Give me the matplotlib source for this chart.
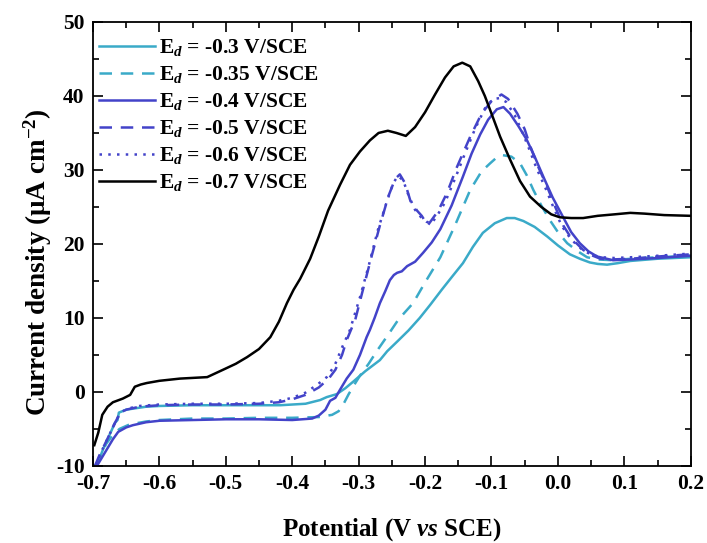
import matplotlib
matplotlib.use("Agg")
import matplotlib.pyplot as plt

plt.rcParams['font.family'] = ['Liberation Serif', 'DejaVu Serif']
plt.rcParams['font.weight'] = 'bold'
plt.rcParams['axes.labelweight'] = 'bold'
plt.rcParams['mathtext.fontset'] = 'custom'
plt.rcParams['mathtext.rm'] = 'Liberation Serif:bold'
plt.rcParams['mathtext.bf'] = 'Liberation Serif:bold'
plt.rcParams['mathtext.it'] = 'Liberation Serif:italic:bold'

# Ed = -0.3 V/SCE
x_03 = [-0.697, -0.690, -0.685, -0.676, -0.667, -0.663, -0.661, -0.650, -0.635, -0.620,
        -0.600, -0.550, -0.500, -0.449, -0.418, -0.380, -0.358, -0.348, -0.333, -0.320,
        -0.308, -0.290, -0.268, -0.257, -0.242, -0.225, -0.208, -0.192, -0.175, -0.160,
        -0.143, -0.128, -0.113, -0.095, -0.077, -0.065, -0.052, -0.035, -0.016, 0.000,
        0.018, 0.033, 0.048, 0.060, 0.074, 0.090, 0.109, 0.150, 0.200]
y_03 = [-10, -9.0, -7.8, -6.0, -4.2, -3.8, -2.8, -2.4, -2.2, -2.0,
        -1.9, -1.8, -1.8, -1.8, -1.8, -1.6, -1.1, -0.7, -0.3, 0.5,
        1.4, 2.8, 4.3, 5.5, 6.8, 8.3, 10.0, 11.8, 13.8, 15.5,
        17.4, 19.6, 21.5, 22.8, 23.5, 23.5, 23.1, 22.3, 21.0, 19.8,
        18.6, 18.0, 17.5, 17.3, 17.2, 17.4, 17.7, 18.0, 18.2]

# Ed = -0.35 V/SCE
x_035 = [-0.696, -0.688, -0.680, -0.670, -0.660, -0.645, -0.620, -0.600, -0.550, -0.500,
         -0.450, -0.400, -0.360, -0.340, -0.330, -0.322, -0.315, -0.305, -0.298, -0.285,
         -0.272, -0.255, -0.240, -0.218, -0.200, -0.177, -0.155, -0.132, -0.115, -0.102,
         -0.092, -0.083, -0.070, -0.057, -0.047, -0.037, -0.025, -0.012, 0.000, 0.014,
         0.030, 0.044, 0.060, 0.083, 0.110, 0.150, 0.200]
y_035 = [-10, -8.5, -7.0, -5.8, -5.0, -4.4, -4.0, -3.8, -3.6, -3.6,
         -3.5, -3.5, -3.4, -3.1, -2.6, -1.5, -0.3, 1.2, 2.2, 3.8,
         5.6, 7.8, 9.8, 12.0, 14.8, 18.2, 22.5, 27.3, 29.8, 30.9,
         31.7, 32.0, 31.8, 30.9, 29.3, 27.3, 25.2, 23.2, 21.6, 20.1,
         19.0, 18.2, 17.9, 17.8, 18.0, 18.2, 18.4]

# Ed = -0.4 V/SCE
x_04 = [-0.694, -0.686, -0.678, -0.670, -0.662, -0.650, -0.640, -0.620, -0.600, -0.550,
        -0.500, -0.450, -0.400, -0.370, -0.360, -0.350, -0.343, -0.335, -0.328, -0.318,
        -0.308, -0.298, -0.288, -0.283, -0.276, -0.268, -0.260, -0.253, -0.247, -0.242,
        -0.235, -0.227, -0.215, -0.203, -0.190, -0.177, -0.160, -0.143, -0.130, -0.117,
        -0.105, -0.092, -0.082, -0.072, -0.060, -0.047, -0.035, -0.022, -0.008, 0.008,
        0.020, 0.033, 0.046, 0.059, 0.083, 0.110, 0.150, 0.200]
y_04 = [-10, -8.8, -7.6, -6.4, -5.4, -4.8, -4.5, -4.1, -3.9, -3.8,
        -3.7, -3.7, -3.8, -3.6, -3.2, -2.4, -1.2, -0.8, 0.3, 1.8,
        3.0, 5.0, 7.4, 8.4, 10.0, 12.0, 13.6, 15.1, 15.8, 16.1,
        16.3, 17.0, 17.6, 18.8, 20.2, 22.0, 25.2, 29.1, 32.2, 34.8,
        36.8, 38.2, 38.5, 37.6, 36.0, 34.1, 31.8, 29.1, 26.3, 23.6,
        21.6, 20.1, 19.0, 18.3, 17.8, 17.9, 18.1, 18.4]

# Ed = -0.5 V/SCE
x_05 = [-0.697, -0.690, -0.679, -0.667, -0.660, -0.650, -0.630, -0.600, -0.550, -0.500,
        -0.450, -0.420, -0.400, -0.380, -0.360, -0.345, -0.335, -0.325, -0.318, -0.305,
        -0.293, -0.280, -0.268, -0.255, -0.245, -0.238, -0.230, -0.222, -0.212, -0.205,
        -0.196, -0.188, -0.180, -0.167, -0.152, -0.132, -0.115, -0.100, -0.085, -0.075,
        -0.061, -0.050, -0.042, -0.030, -0.016, -0.004, 0.008, 0.020, 0.038, 0.050,
        0.064, 0.080, 0.110, 0.150, 0.200]
y_05 = [-10, -8.5, -6.5, -4.2, -3.0, -2.4, -2.0, -1.8, -1.7, -1.7,
        -1.6, -1.4, -1.0, -0.4, 0.6, 1.8, 3.0, 5.0, 7.0, 9.8,
        14.0, 18.5, 22.5, 26.5, 28.8, 29.4, 28.2, 25.8, 24.5, 23.8,
        22.5, 23.5, 24.5, 26.9, 30.4, 34.5, 37.6, 39.3, 40.2, 39.6,
        37.6, 35.5, 33.3, 30.5, 27.7, 25.0, 22.5, 20.8, 19.2, 18.5,
        18.0, 17.9, 18.0, 18.3, 18.6]

# Ed = -0.6 V/SCE
x_06 = [-0.696, -0.688, -0.678, -0.668, -0.660, -0.650, -0.630, -0.600, -0.550, -0.500,
        -0.450, -0.420, -0.400, -0.380, -0.362, -0.348, -0.336, -0.326, -0.313, -0.298,
        -0.285, -0.271, -0.258, -0.248, -0.241, -0.233, -0.225, -0.215, -0.206, -0.198,
        -0.190, -0.182, -0.170, -0.155, -0.140, -0.125, -0.110, -0.098, -0.088, -0.078,
        -0.065, -0.054, -0.044, -0.032, -0.018, -0.006, 0.006, 0.020, 0.038, 0.052,
        0.066, 0.085, 0.110, 0.150, 0.200]
y_06 = [-10, -8.2, -6.3, -4.4, -3.0, -2.3, -1.9, -1.7, -1.6, -1.6,
        -1.5, -1.2, -0.8, -0.1, 1.0, 2.0, 3.6, 5.8, 8.4, 12.8,
        17.0, 21.9, 25.6, 28.2, 29.2, 28.6, 26.6, 24.6, 23.6, 23.0,
        22.8, 23.8, 25.6, 28.8, 32.2, 35.5, 38.3, 39.6, 39.7, 39.2,
        37.4, 35.2, 33.0, 30.2, 27.4, 24.8, 22.4, 20.6, 19.1, 18.5,
        18.2, 18.1, 18.2, 18.4, 18.7]

# Ed = -0.7 V/SCE
x_07 = [-0.698, -0.692, -0.686, -0.678, -0.670, -0.655, -0.644, -0.637, -0.628, -0.619,
        -0.600, -0.569, -0.528, -0.504, -0.485, -0.468, -0.450, -0.433, -0.420, -0.408,
        -0.398, -0.388, -0.373, -0.360, -0.346, -0.328, -0.313, -0.298, -0.283, -0.270,
        -0.256, -0.243, -0.229, -0.215, -0.200, -0.185, -0.170, -0.157, -0.144, -0.132,
        -0.120, -0.110, -0.102, -0.087, -0.072, -0.057, -0.042, -0.025, -0.010, 0.003,
        0.020, 0.038, 0.060, 0.085, 0.109, 0.130, 0.160, 0.200]
y_07 = [-7.2, -5.5, -3.1, -2.0, -1.4, -0.9, -0.4, 0.7, 1.0, 1.2,
        1.5, 1.8, 2.0, 3.0, 3.8, 4.7, 5.8, 7.4, 9.5, 12.0,
        13.8, 15.3, 18.0, 21.0, 24.5, 28.0, 30.7, 32.5, 34.0, 35.0,
        35.3, 35.0, 34.6, 35.8, 37.8, 40.2, 42.5, 44.0, 44.5, 44.0,
        42.0, 40.0, 38.1, 34.5, 31.4, 28.5, 26.4, 25.0, 24.0, 23.6,
        23.5, 23.5, 23.8, 24.0, 24.2, 24.1, 23.9, 23.8]

labels = [r'E$_{\mathit{d}}$ = -0.3 V/SCE', r'E$_{\mathit{d}}$ = -0.35 V/SCE',
          r'E$_{\mathit{d}}$ = -0.4 V/SCE', r'E$_{\mathit{d}}$ = -0.5 V/SCE',
          r'E$_{\mathit{d}}$ = -0.6 V/SCE', r'E$_{\mathit{d}}$ = -0.7 V/SCE']

cyan = '#3aaac8'
blue = '#4343c9'

fig = plt.figure(figsize=(7.07, 5.43), dpi=100)
ax = fig.add_axes([0.1315, 0.142, 0.8455, 0.8175])

ax.plot(x_03, y_03, color=cyan, lw=1.8, label=labels[0])
ax.plot(x_035, y_035, color=cyan, lw=1.8, ls=(0, (5, 3.5)), label=labels[1])
ax.plot(x_04, y_04, color=blue, lw=1.8, label=labels[2])
ax.plot(x_05, y_05, color=blue, lw=1.8, ls=(0, (5, 3.5)), label=labels[3])
ax.plot(x_06, y_06, color=blue, lw=1.8, ls=(0, (1, 2.5)), label=labels[4])
ax.plot(x_07, y_07, color='black', lw=1.8, label=labels[5])

ax.set_xlim(-0.7, 0.2)
ax.set_ylim(-10, 50)
ax.set_xticks([-0.7, -0.6, -0.5, -0.4, -0.3, -0.2, -0.1, 0.0, 0.1, 0.2])
ax.set_xticklabels(['-0.7', '-0.6', '-0.5', '-0.4', '-0.3', '-0.2', '-0.1', '0.0', '0.1', '0.2'])
ax.set_yticks([-10, 0, 10, 20, 30, 40, 50])
ax.set_yticklabels(['-10', '0', '10', '20', '30', '40', '50'])
ax.set_xticks([-0.65, -0.55, -0.45, -0.35, -0.25, -0.15, -0.05, 0.05, 0.15], minor=True)
ax.set_yticks([-5, 5, 15, 25, 35, 45], minor=True)
ax.tick_params(which='both', direction='in', top=True, right=True, width=1.2)
ax.tick_params(which='major', length=7, labelsize=15.5, pad=6)
ax.tick_params(which='minor', length=4)
for s in ax.spines.values():
    s.set_linewidth(1.3)

ax.set_xlabel(r'Potential (V $\mathit{vs}$ SCE)', fontsize=18, labelpad=16)
ax.set_ylabel(r'Current density (μA cm$^{-2}$)', fontsize=19.5)
ax.yaxis.set_label_coords(-0.066, 0.46)

ax.legend(loc='upper left', frameon=False, fontsize=15.5, handlelength=2.6,
          handletextpad=0.2, labelspacing=0.28, borderaxespad=0.0,
          bbox_to_anchor=(-0.005, 0.985))

fig.savefig('out.png', dpi=100)
